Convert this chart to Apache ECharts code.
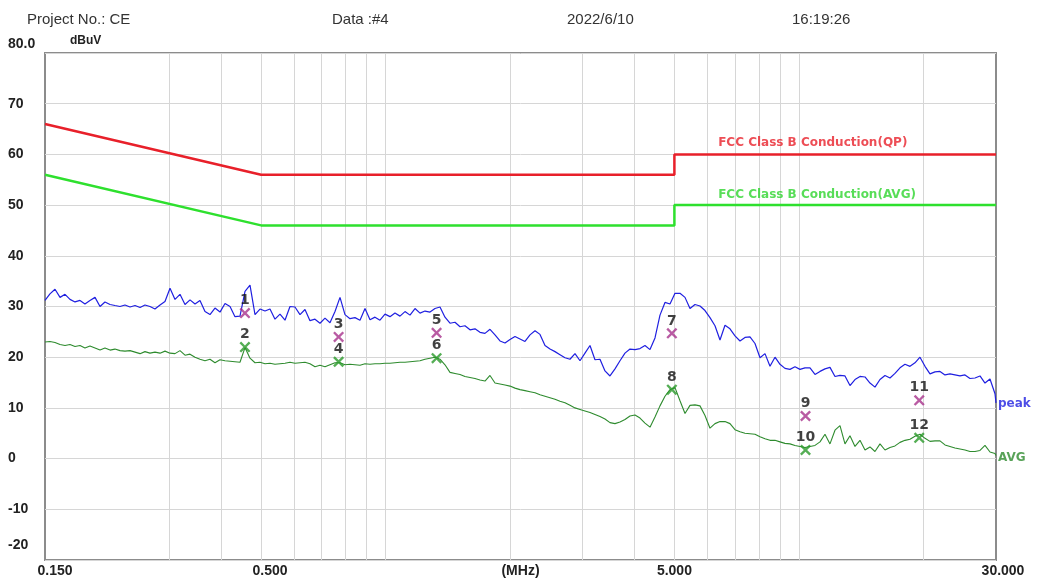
<!DOCTYPE html>
<html>
<head>
<meta charset="utf-8">
<title>CE - Data #4</title>
<script src="https://cdn.jsdelivr.net/npm/echarts@6/dist/echarts.min.js"></script>
<style>
html, body { margin: 0; padding: 0; background: #fff; }
#chart { width: 1038px; height: 581px; }
</style>
</head>
<body>
<div id="chart"></div>
<script>
// sweep frequencies (MHz)
var freqMHz = [
  0.150, 0.1542, 0.1586, 0.1631, 0.1677, 0.1724, 0.1773, 0.1823, 0.1874, 0.1927,
  0.1982, 0.2038, 0.2095, 0.2155, 0.2215, 0.2278, 0.2342, 0.2409, 0.2477, 0.2547,
  0.2618, 0.2692, 0.2768, 0.2847, 0.2927, 0.3010, 0.3095, 0.3182, 0.3272, 0.3365,
  0.3460, 0.3557, 0.3658, 0.3761, 0.3867, 0.3977, 0.4089, 0.4205, 0.4323, 0.4445,
  0.4571, 0.4700, 0.4833, 0.4969, 0.5110, 0.5254, 0.5402, 0.5555, 0.5712, 0.5873,
  0.6039, 0.6210, 0.6385, 0.6565, 0.6751, 0.6942, 0.7138, 0.7339, 0.7547, 0.7760,
  0.7979, 0.8204, 0.8436, 0.8675, 0.8920, 0.9172, 0.9431, 0.9697, 0.9971, 1.0253,
  1.0542, 1.0840, 1.1146, 1.1461, 1.1785, 1.2118, 1.2460, 1.2812, 1.3174, 1.3546,
  1.3928, 1.4322, 1.4727, 1.5143, 1.5570, 1.6010, 1.6462, 1.6928, 1.7406, 1.7897,
  1.8403, 1.8923, 1.9458, 2.0007, 2.0572, 2.1154, 2.1751, 2.2366, 2.2997, 2.3647,
  2.4315, 2.5002, 2.5708, 2.6435, 2.7181, 2.7949, 2.8739, 2.9551, 3.0385, 3.1244,
  3.2124, 3.3032, 3.3965, 3.4924, 3.5911, 3.6925, 3.7968, 3.9041, 4.0144, 4.1278,
  4.2444, 4.3643, 4.4876, 4.6144, 4.7447, 4.8788, 5.0166, 5.1583, 5.3040, 5.4538,
  5.6078, 5.7662, 5.9291, 6.0966, 6.2689, 6.4460, 6.6280, 6.8153, 7.0078, 7.2058,
  7.4093, 7.6186, 7.8339, 8.0552, 8.2827, 8.5167, 8.7573, 9.0047, 9.2590, 9.5206,
  9.7894, 10.066, 10.350, 10.643, 10.943, 11.253, 11.570, 11.897, 12.233, 12.579,
  12.934, 13.299, 13.675, 14.062, 14.459, 14.867, 15.287, 15.719, 16.163, 16.620,
  17.089, 17.572, 18.068, 18.579, 19.103, 19.643, 20.198, 20.768, 21.355, 21.959,
  22.578, 23.216, 23.872, 24.546, 25.240, 25.953, 26.686, 27.440, 28.215, 29.012,
  29.832, 30.000
];

// peak detector trace (dBuV)
var peakLevel = [
  31.2, 32.5, 33.4, 31.8, 32.4, 31.4, 30.9, 31.2, 30.5, 31.2,
  31.8, 30.0, 30.9, 30.4, 30.2, 30.0, 30.3, 29.9, 30.2, 29.8,
  30.3, 30.0, 29.5, 30.3, 31.0, 33.6, 31.4, 32.4, 30.4, 31.3,
  30.5, 31.2, 29.0, 28.4, 29.7, 28.9, 30.6, 30.0, 28.0, 28.1,
  33.0, 34.2, 28.4, 29.5, 29.1, 29.5, 27.5, 28.5, 27.3, 30.0,
  29.9, 28.4, 29.4, 27.2, 27.5, 26.7, 27.7, 26.8, 29.0, 31.8,
  28.4, 27.6, 27.8, 27.3, 29.6, 27.4, 27.9, 27.3, 28.5, 28.0,
  28.7, 28.1, 29.0, 28.3, 29.6, 28.7, 29.1, 28.9, 29.6, 29.9,
  27.9, 26.7, 26.9, 26.0, 26.2, 25.4, 25.6, 24.9, 24.7, 25.5,
  24.4, 23.2, 22.8, 23.5, 24.1, 23.6, 23.1, 24.4, 25.2, 24.5,
  22.3, 21.6, 21.1, 20.5, 19.9, 19.6, 20.7, 19.3, 20.8, 22.3,
  19.5, 19.6, 17.3, 16.3, 17.7, 19.3, 20.8, 21.6, 21.5, 21.7,
  22.3, 21.5, 23.8, 28.3, 30.8, 30.5, 32.6, 32.6, 31.8, 29.6,
  30.4, 30.1, 29.2, 27.8, 26.2, 23.4, 26.3, 25.6, 24.2, 23.2,
  23.9, 24.0, 22.7, 19.9, 20.7, 18.2, 20.0, 18.6, 17.8, 17.6,
  18.1, 17.6, 17.9, 17.9, 16.6, 17.2, 17.7, 18.0, 16.2, 16.4,
  16.3, 14.4, 15.6, 16.2, 16.1, 14.9, 14.1, 15.6, 16.4, 15.9,
  16.8, 17.9, 18.6, 18.2, 18.9, 20.0, 18.2, 16.7, 17.1, 17.2,
  16.5, 16.7, 16.5, 16.3, 16.5, 15.8, 15.9, 16.3, 14.9, 15.7,
  12.8, 11.0
];

// average detector trace (dBuV)
var avgLevel = [
  23.0, 23.1, 22.9, 22.5, 22.3, 22.5, 22.1, 22.3, 21.8, 22.2,
  21.8, 21.4, 21.8, 21.4, 21.6, 21.3, 21.2, 21.3, 21.0, 20.7,
  21.1, 20.8, 21.0, 20.8, 21.2, 20.8, 20.7, 21.3, 20.4, 20.6,
  20.0, 19.6, 19.3, 19.6, 18.9, 19.5, 19.3, 19.2, 19.1, 19.0,
  21.9, 19.8, 18.9, 19.0, 18.7, 18.8, 18.6, 18.7, 18.8, 19.0,
  18.8, 18.9, 19.0, 18.7, 18.1, 18.4, 18.1, 18.5, 18.9, 18.9,
  18.5, 18.6, 18.5, 18.4, 18.7, 18.6, 18.7, 18.7, 18.8, 18.8,
  18.9, 19.0, 19.0, 19.1, 19.2, 19.3, 19.6, 19.8, 20.0, 19.6,
  18.5, 17.0, 16.8, 16.6, 16.2, 16.0, 15.8, 15.5, 15.3, 16.4,
  14.9, 14.7, 14.5, 14.3, 13.9, 13.6, 13.4, 13.2, 13.0, 12.6,
  12.3, 12.0, 11.7, 11.3, 11.0, 10.5, 10.0, 9.7, 9.4, 9.1,
  8.7, 8.3, 7.8, 7.1, 6.9, 7.2, 7.7, 8.4, 8.6, 8.0,
  7.0, 6.2, 8.2, 10.4, 12.3, 13.6, 14.0, 11.4, 8.9, 10.5,
  10.6, 10.4, 8.5, 6.0, 6.9, 7.3, 7.3, 6.9, 5.7, 5.3,
  5.0, 4.9, 4.8, 4.3, 3.9, 3.6, 3.6, 3.3, 3.0, 2.9,
  2.6, 2.4, 2.2, 2.4, 2.6, 3.3, 4.8, 2.9, 5.6, 6.5,
  2.9, 4.5, 2.4, 3.6, 1.7, 2.3, 1.4, 2.9, 1.7, 2.2,
  2.5, 3.2, 3.6, 3.8, 4.4, 4.8, 4.0, 3.4, 3.5, 3.5,
  2.7, 2.4, 2.1, 1.9, 1.7, 1.4, 1.4, 1.6, 2.6, 1.3,
  1.0, 0.6
];

// FCC Class B conducted limits
var limitFreq = [0.15, 0.5, 5, 5, 30];
var qpLimit = [66, 56, 56, 60, 60];
var avgLimit = [56, 46, 46, 50, 50];

// final measurement markers
var markFreq = [0.457, 0.770, 1.329, 4.93, 10.38, 19.56];
var qpMarkNo = [1, 3, 5, 7, 9, 11];
var qpMarkLevel = [28.7, 24.0, 24.8, 24.7, 8.4, 11.5];
var avgMarkNo = [2, 4, 6, 8, 10, 12];
var avgMarkLevel = [22.0, 19.1, 19.8, 13.6, 1.7, 4.1];

// axis ticks
var gridFreq = [0.3, 0.4, 0.5, 0.6, 0.7, 0.8, 0.9, 1, 2, 3, 4, 5, 6, 7, 8, 9, 10, 20];
var freqLabels = [0.15, 0.5, 5, 30];

var myChart = echarts.init(document.getElementById('chart'));

function pairs(xs, ys) {
    return xs.map(function (x, i) { return [x, ys[i]]; });
}

var axisFont = 'Liberation Sans, Arial, sans-serif';
var markFont = 'DejaVu Sans, Verdana, sans-serif';
var crossPath = 'path://M0,1.5L1.5,0L5,3.5L8.5,0L10,1.5L6.5,5L10,8.5L8.5,10L5,6.5L1.5,10L0,8.5L3.5,5Z';

var headStyle = { fontSize: 15, fontWeight: 'normal', color: '#333', fontFamily: axisFont };
var tickStyle = { fontSize: 14, fontWeight: 'bold', color: '#222', fontFamily: axisFont };

option = {
    animation: false,
    backgroundColor: '#fff',
    title: [
        { text: 'Project No.: CE', left: 22, top: 7, textStyle: headStyle },
        { text: 'Data :#4', left: 327, top: 7, textStyle: headStyle },
        { text: '2022/6/10', left: 562, top: 7, textStyle: headStyle },
        { text: '16:19:26', left: 787, top: 7, textStyle: headStyle }
    ],
    grid: {
        left: 45,
        right: 42,
        top: 53,
        bottom: 21,
        outerBoundsMode: 'none',
        containLabel: false,
        show: true,
        borderColor: '#8c8c8c',
        borderWidth: 2
    },
    xAxis: {
        type: 'log',
        logBase: 10,
        min: 0.15,
        max: 30,
        name: '(MHz)',
        nameLocation: 'middle',
        nameGap: 4,
        nameMoveOverlap: false,
        nameTextStyle: Object.assign({ verticalAlign: 'top' }, tickStyle),
        axisLine: { show: false },
        axisTick: { show: false, customValues: gridFreq },
        splitLine: { show: true, lineStyle: { color: '#d6d6d6', width: 1 } },
        axisLabel: {
            customValues: freqLabels,
            margin: 4,
            formatter: function (v) {
                var t = (+v).toFixed(3);
                if (Math.abs(v - 0.15) < 1e-6) return '{a|' + t + '}';
                if (Math.abs(v - 0.5) < 1e-6) return '{b|' + t + '}';
                if (Math.abs(v - 30) < 1e-6) return '{c|' + t + '}';
                return '{d|' + t + '}';
            },
            rich: {
                a: Object.assign({ padding: [0, 0, 0, 20] }, tickStyle),
                b: Object.assign({ padding: [0, 0, 0, 18] }, tickStyle),
                c: Object.assign({ padding: [0, 0, 0, 14] }, tickStyle),
                d: tickStyle
            }
        }
    },
    yAxis: {
        type: 'value',
        min: -20,
        max: 80,
        interval: 10,
        name: 'dBuV',
        nameLocation: 'end',
        nameGap: 12,
        nameTextStyle: {
            fontSize: 12, fontWeight: 'bold', color: '#222', fontFamily: axisFont,
            align: 'left', verticalAlign: 'middle', padding: [0, 0, 0, 25]
        },
        axisLine: { show: false },
        axisTick: { show: false },
        splitLine: { lineStyle: { color: '#d6d6d6', width: 1 } },
        axisLabel: {
            align: 'left',
            margin: 37,
            formatter: function (v) {
                if (v === 80) return '{t|80.0}';
                if (v === -20) return '{u|-20}';
                return '{n|' + v + '}';
            },
            rich: {
                n: tickStyle,
                t: Object.assign({ padding: [0, 0, 18, 0] }, tickStyle),
                u: Object.assign({ padding: [0, 0, 30, 0] }, tickStyle)
            }
        }
    },
    series: [
        {
            name: 'QP limit',
            type: 'line',
            data: pairs(limitFreq, qpLimit),
            showSymbol: false,
            lineStyle: { color: '#e8202a', width: 2.5 },
            itemStyle: { color: '#e8202a' },
            z: 2
        },
        {
            name: 'AVG limit',
            type: 'line',
            data: pairs(limitFreq, avgLimit),
            showSymbol: false,
            lineStyle: { color: '#2ee02e', width: 2.5 },
            itemStyle: { color: '#2ee02e' },
            z: 2
        },
        {
            name: 'peak',
            type: 'line',
            data: pairs(freqMHz, peakLevel),
            showSymbol: false,
            lineStyle: { color: '#1f1fe0', width: 1.2 },
            itemStyle: { color: '#1f1fe0' },
            z: 3
        },
        {
            name: 'AVG',
            type: 'line',
            data: pairs(freqMHz, avgLevel),
            showSymbol: false,
            lineStyle: { color: '#2e8b2e', width: 1.1 },
            itemStyle: { color: '#2e8b2e' },
            z: 3
        },
        {
            name: 'QP marks',
            type: 'scatter',
            symbol: crossPath,
            symbolSize: 11,
            itemStyle: { color: '#a8328c' },
            data: markFreq.map(function (f, i) { return { value: [f, qpMarkLevel[i]], no: qpMarkNo[i] }; }),
            label: {
                show: true, position: 'top', distance: 0,
                fontSize: 14, fontWeight: 'bold', color: '#111', fontFamily: markFont,
                formatter: function (p) { return p.data.no; }
            },
            z: 4
        },
        {
            name: 'AVG marks',
            type: 'scatter',
            symbol: crossPath,
            symbolSize: 11,
            itemStyle: { color: '#2a9a2a' },
            data: markFreq.map(function (f, i) { return { value: [f, avgMarkLevel[i]], no: avgMarkNo[i] }; }),
            label: {
                show: true, position: 'top', distance: 0,
                fontSize: 14, fontWeight: 'bold', color: '#111', fontFamily: markFont,
                formatter: function (p) { return p.data.no; }
            },
            z: 4
        },
        {
            name: 'notes',
            type: 'scatter',
            symbolSize: 0,
            silent: true,
            label: {
                show: true, position: 'right', distance: 2,
                fontSize: 12, fontWeight: 'bold', fontFamily: markFont
            },
            data: [
                { value: [6.38, 62.2], label: { formatter: 'FCC Class B Conduction(QP)', color: '#e8202a', distance: 0 } },
                { value: [6.38, 52.0], label: { formatter: 'FCC Class B Conduction(AVG)', color: '#2ed52e', distance: 0 } },
                { value: [30, 10.8], label: { formatter: 'peak', color: '#1f1fe0' } },
                { value: [30, 0.2], label: { formatter: 'AVG', color: '#2e8b2e' } }
            ],
            z: 5
        }
    ]
};

myChart.setOption(option);
</script>
</body>
</html>
